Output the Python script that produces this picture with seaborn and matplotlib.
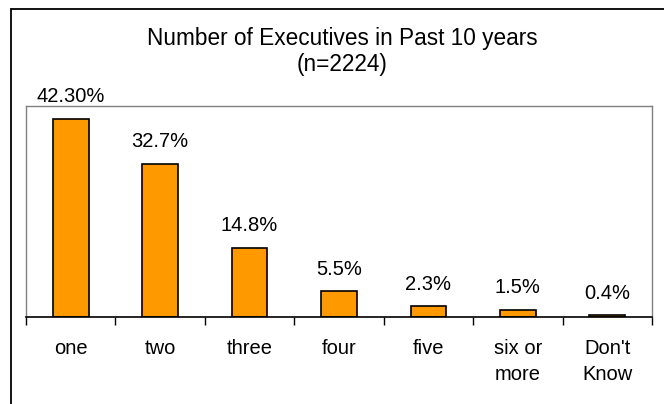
import matplotlib
matplotlib.use('Agg')
import matplotlib.pyplot as plt
from matplotlib.lines import Line2D
import seaborn as sns
import pandas as pd

# chart data
categories = ['one', 'two', 'three', 'four', 'five', 'six or\nmore', "Don't\nKnow"]
percents = [42.3, 32.7, 14.8, 5.5, 2.3, 1.5, 0.4]
value_labels = ['42.30%', '32.7%', '14.8%', '5.5%', '2.3%', '1.5%', '0.4%']

sns.set_theme(style='white')
plt.rcParams['font.family'] = ['Liberation Sans', 'DejaVu Sans']
plt.rcParams['text.color'] = 'black'

df = pd.DataFrame({'category': categories, 'percent': percents})

fig = plt.figure(figsize=(6.64, 4.04), dpi=100)
ax = fig.add_axes([26 / 664, 1 - 317 / 404, 626 / 664, 211 / 404])

sns.barplot(data=df, x='category', y='percent', color='#FF9900', saturation=1,
            edgecolor='black', linewidth=1.2, width=0.4, ax=ax)

ax.set_xlim(-0.5, len(categories) - 0.5)
ax.set_ylim(0, 45)
ax.set_xlabel('')
ax.set_ylabel('')
ax.set_yticks([])

# labels at category centers, ticks at boundaries
ax.set_xticks(range(len(categories)))
ax.set_xticklabels(categories, fontsize=14.5, color='black', linespacing=1.45)
ax.tick_params(axis='x', which='major', length=0, pad=16)
ax.set_xticks([i - 0.5 for i in range(len(categories) + 1)], minor=True)
ax.tick_params(axis='x', which='minor', length=6, width=1, color='black',
               direction='out', bottom=True)

for s in ['top', 'left', 'right']:
    ax.spines[s].set_color('#808080')
    ax.spines[s].set_linewidth(1)
ax.spines['bottom'].set_color('black')
ax.spines['bottom'].set_linewidth(1.2)

for i, (v, lab) in enumerate(zip(percents, value_labels)):
    ax.annotate(lab, (i, v), xytext=(0, 9), textcoords='offset points',
                ha='center', va='bottom', fontsize=14.5, color='black',
                annotation_clip=False)

fig.text(342 / 664, 1 - 38 / 404, 'Number of Executives in Past 10 years',
         ha='center', va='center', fontsize=16.3)
fig.text(342 / 664, 1 - 65 / 404, '(n=2224)', ha='center', va='center', fontsize=16.3)

# outer chart frame (left and top edges visible)
fig.add_artist(Line2D([10.5 / 664, 10.5 / 664], [0, 1 - 8.5 / 404],
                      transform=fig.transFigure, color='black', linewidth=1.3))
fig.add_artist(Line2D([10.5 / 664, 1], [1 - 8.5 / 404, 1 - 8.5 / 404],
                      transform=fig.transFigure, color='black', linewidth=1.3))

fig.savefig('out.png', dpi=100, facecolor='white')
